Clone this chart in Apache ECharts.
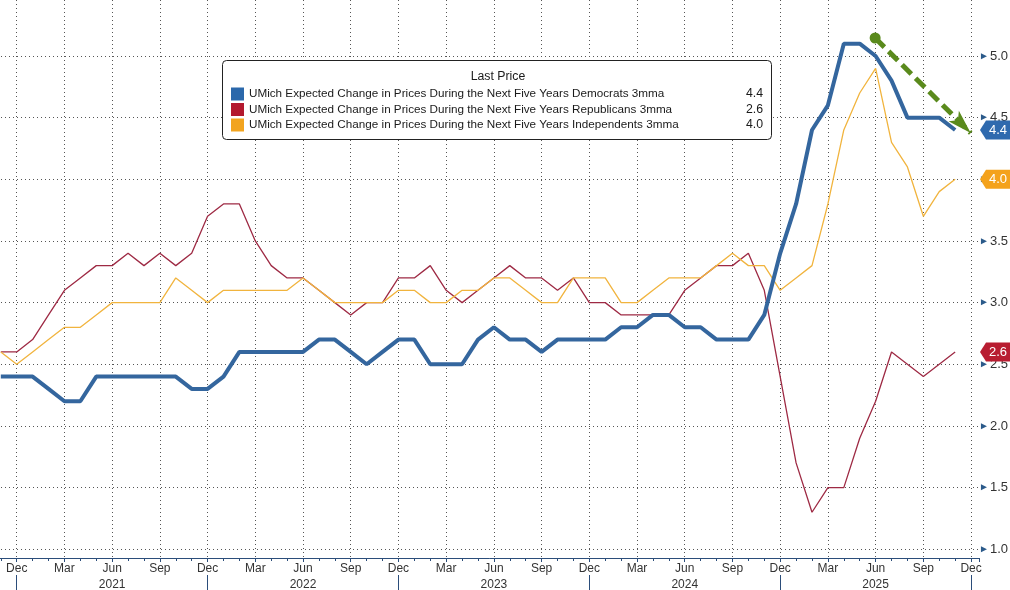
<!DOCTYPE html>
<html><head><meta charset="utf-8">
<script src="https://cdn.jsdelivr.net/npm/echarts@6/dist/echarts.min.js"></script>
<style>html,body{margin:0;padding:0;background:#fff}#c{width:1010px;height:590px}</style>
</head><body><div id="c"></div>
<script>
// ---- data (monthly, Nov 2020 .. Nov 2025) ----
const monthNames = ['Jan','Feb','Mar','Apr','May','Jun','Jul','Aug','Sep','Oct','Nov','Dec'];
const seriesNames = [
  'UMich Expected Change in Prices During the Next Five Years Democrats 3mma',
  'UMich Expected Change in Prices During the Next Five Years Republicans 3mma',
  'UMich Expected Change in Prices During the Next Five Years Independents 3mma'
];
const democrats = [2.4,2.4,2.4,2.3,2.2,2.2,2.4,2.4,2.4,2.4,2.4,2.4,2.3,2.3,2.4,2.6,2.6,2.6,2.6,2.6,2.7,2.7,2.6,2.5,2.6,2.7,2.7,2.5,2.5,2.5,2.7,2.8,2.7,2.7,2.6,2.7,2.7,2.7,2.7,2.8,2.8,2.9,2.9,2.8,2.8,2.7,2.7,2.7,2.9,3.4,3.8,4.4,4.6,5.1,5.1,5.0,4.8,4.5,4.5,4.5,4.4];
const republicans = [2.6,2.6,2.7,2.9,3.1,3.2,3.3,3.3,3.4,3.3,3.4,3.3,3.4,3.7,3.8,3.8,3.5,3.3,3.2,3.2,3.1,3.0,2.9,3.0,3.0,3.2,3.2,3.3,3.1,3.0,3.1,3.2,3.3,3.2,3.2,3.1,3.2,3.0,3.0,2.9,2.9,2.9,2.9,3.1,3.2,3.3,3.3,3.4,3.1,2.4,1.7,1.3,1.5,1.5,1.9,2.2,2.6,2.5,2.4,2.5,2.6];
const independents = [2.6,2.5,2.6,2.7,2.8,2.8,2.9,3.0,3.0,3.0,3.0,3.2,3.1,3.0,3.1,3.1,3.1,3.1,3.1,3.2,3.1,3.0,3.0,3.0,3.0,3.1,3.1,3.0,3.0,3.1,3.1,3.2,3.2,3.1,3.0,3.0,3.2,3.2,3.2,3.0,3.0,3.1,3.2,3.2,3.2,3.3,3.4,3.3,3.3,3.1,3.2,3.3,3.8,4.4,4.7,4.9,4.3,4.1,3.7,3.9,4.0];
const lastValues = [4.4, 2.6, 4.0];
// x axis: month index counted from Sep 2020 (=0); data start Nov 2020
const axisStart = {year: 2020, month: 8};
const dataStartIndex = 2;
const axisMaxIndex = 63.5;
const yearSeparators = [3, 15, 27, 39, 51, 63];
// annotation arrow (month index, value)
const arrowFrom = [56.97, 5.146];
const arrowTo = [62.98, 4.376];

const lineColors = ['#34669e', '#9e2a44', '#f1b43e'];
const keyColors = ['#2b68ab', '#b3192f', '#f2a41f'];
const tagColors = ['#2f6aae', '#b81d31', '#f4a21c'];
const FONT = "'Liberation Sans', Arial, sans-serif";

function toPoints(arr){ return arr.map((v,i)=>[i + dataStartIndex, v]); }
function xLabel(v){
  if (Math.abs(v - Math.round(v)) > 1e-6) return '';
  const abs = axisStart.month + Math.round(v);
  const m = abs % 12, y = axisStart.year + Math.floor(abs / 12);
  return monthNames[m] === 'Jun' ? 'Jun\n' + y : monthNames[m];
}
const tagPath = 'path://M0,9 L6,0 L30,0 L30,18 L6,18 Z';
function tag(i){
  return {
    silent: true,
    symbol: tagPath, symbolSize: [30, 19], symbolOffset: [16, 0], symbolKeepAspect: false,
    itemStyle: {color: tagColors[i]},
    label: {show: true, position: 'inside', offset:[3,0], color: '#fff', fontSize: 13, fontFamily: FONT,
            formatter: p => p.value.toFixed(1)},
    data: [{coord: [axisMaxIndex, lastValues[i]], value: lastValues[i]}]
  };
}
const datasets = [democrats, republicans, independents];
const series = datasets.map((d, i) => ({
  name: seriesNames[i], type: 'line', data: toPoints(d), symbol: 'none', smooth: false,
  z: i === 0 ? 4 : 3,
  itemStyle: {color: keyColors[i]},
  lineStyle: {color: lineColors[i], width: i === 0 ? 4 : 1.3},
  markPoint: tag(i)
}));
series[0].markLine = {
  silent: true, symbol: ['circle', 'arrow'], symbolSize: [11, 24],
  lineStyle: {color: '#5a8a1c', width: 5, type: [13, 6]},
  label: {show: false},
  data: [[{coord: arrowFrom}, {coord: arrowTo}]]
};

const chart = echarts.init(document.getElementById('c'), null, {renderer: 'canvas'});
chart.setOption({
  animation: false,
  backgroundColor: '#fff',
  textStyle: {fontFamily: FONT},
  grid: {left: -31, right: 31, top: 0, bottom: 32, containLabel: false, outerBoundsMode: 'none'},
  xAxis: [{
    type: 'value', min: 0, max: axisMaxIndex, interval: 3,
    axisLine: {show: true, onZero: false, lineStyle: {color: '#2b4d7a'}},
    axisTick: {show: true, length: 4, lineStyle: {color: '#2b4d7a'}},
    minorTick: {show: true, splitNumber: 3, length: 3, lineStyle: {color: '#2b4d7a'}},
    axisLabel: {formatter: xLabel, margin: 3, fontSize: 12, color: '#333', lineHeight: 16, fontFamily: FONT},
    splitLine: {show: true, showMinLine: false, showMaxLine: false, lineStyle: {type: [1, 3], color: '#555'}}
  }, {
    type: 'value', min: 0, max: axisMaxIndex, position: 'bottom', offset: 17,
    axisLine: {show: false},
    axisTick: {show: true, customValues: yearSeparators, length: 15, lineStyle: {color: '#2b4d7a'}},
    axisLabel: {show: false}, splitLine: {show: false}
  }],
  yAxis: {
    type: 'value', position: 'right', min: 0.929, max: 5.454, splitNumber: 9,
    axisLine: {show: true, lineStyle: {color: '#2b4d7a'}},
    axisTick: {show: false},
    minorTick: {show: true, splitNumber: 2, length: 5, lineStyle: {color: '#2b4d7a'}},
    axisLabel: {margin: 0, fontFamily: FONT,
      formatter: v => (Math.abs(v * 2 - Math.round(v * 2)) < 1e-6) ? '{t|►}{v|' + v.toFixed(1) + '}' : '',
      rich: {t: {fontSize: 10, color: '#2b5a8a', padding: [0, 1, 0, 0]}, v: {fontSize: 13, color: '#333', fontFamily: FONT}}},
    splitLine: {show: true, showMinLine: false, showMaxLine: false, lineStyle: {type: [1, 3], color: '#555'}}
  },
  legend: {
    orient: 'vertical', left: 231, top: 87.5, padding: 0, itemWidth: 13, itemHeight: 13, itemGap: 2.5, icon: 'rect', z: 12,
    selectedMode: false,
    data: seriesNames.map((n, i) => ({name: n, itemStyle: {color: keyColors[i]}})),
    formatter: name => '{n|' + name + '}{v|' + lastValues[seriesNames.indexOf(name)].toFixed(1) + '}',
    textStyle: {fontFamily: FONT, rich: {
      n: {width: 492, fontSize: 11.7, color: '#1a1a1a', lineHeight: 13, fontFamily: FONT},
      v: {width: 22, align: 'right', fontSize: 12.3, color: '#1a1a1a', lineHeight: 13, fontFamily: FONT}}}
  },
  graphic: [
    {type: 'rect', z: 10, shape: {x: 222.5, y: 60.5, width: 549, height: 79, r: 4}, style: {fill: '#fff', stroke: '#222', lineWidth: 1}},
    {type: 'text', z: 11, x: 498, y: 77, style: {text: 'Last Price', fontSize: 12.3, fill: '#1a1a1a', align: 'center', verticalAlign: 'middle', fontFamily: FONT}}
  ],
  series: series
});
</script></body></html>
